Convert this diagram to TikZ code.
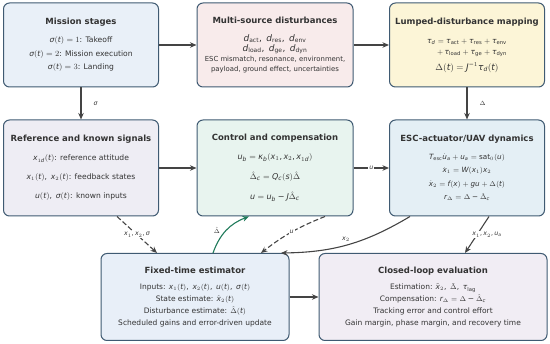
\documentclass[tikz,border=0pt]{standalone}
\usepackage{fontspec}
\setmainfont{DejaVu Sans}
\setmathrm{DejaVu Sans}
\usetikzlibrary{arrows.meta}

% sans math letters, digits and greek from DejaVu Sans
\DeclareSymbolFont{sfletters}{TU}{\rmdefault}{m}{it}
\DeclareSymbolFont{sfup}{TU}{\rmdefault}{m}{n}
\makeatletter
\count@=`a
\loop \Umathcode\count@="7 \symsfletters\count@ \ifnum\count@<`z \advance\count@\@ne \repeat
\count@=`A
\loop \Umathcode\count@="7 \symsfletters\count@ \ifnum\count@<`Z \advance\count@\@ne \repeat
\count@=`0
\loop \Umathcode\count@="7 \symsfup\count@ \ifnum\count@<`9 \advance\count@\@ne \repeat
\makeatother
\Umathcode `\( = "4 \symsfup `\(
\Umathcode `\) = "5 \symsfup `\)
\Umathcode `\+ = "2 \symsfup `\+
\Umathcode `\= = "3 \symsfup `\=
\Umathcode `\- = "2 \symsfup "2212
\Umathcode `\, = "6 \symsfup `\,
\Umathchardef\sigma="7 \symsfletters "03C3
\Umathchardef\tau="7 \symsfletters "03C4
\Umathchardef\kappa="7 \symsfletters "03BA
\Umathchardef\Delta="0 \symsfup "0394

\definecolor{boxline}{HTML}{3F5A72}
\definecolor{textgray}{HTML}{333333}
\definecolor{arrowgray}{HTML}{444444}
\definecolor{estgreen}{HTML}{1F7A5A}
\definecolor{missionfill}{HTML}{E9F0F8}
\definecolor{distfill}{HTML}{F8EBEB}
\definecolor{lumpfill}{HTML}{FCF5D7}
\definecolor{reffill}{HTML}{EEEDF4}
\definecolor{ctrlfill}{HTML}{E8F4EF}
\definecolor{escfill}{HTML}{E4EFF5}
\definecolor{estfill}{HTML}{E8EFF8}
\definecolor{evalfill}{HTML}{F1EDF4}

\newcommand{\boxtitle}[1]{{\fontsize{8.5}{9}\selectfont\bfseries #1}}

\begin{document}
\begin{tikzpicture}[x=1pt,y=-1pt,>={Stealth[length=6.5pt,width=5.5pt]},
  stagebox/.style={draw=boxline,line width=1pt,rounded corners=6pt,align=center,text=textgray,inner sep=0pt},
  flow/.style={->,draw=arrowgray,line width=1.1pt},
  sig/.style={font=\fontsize{6.3}{7}\selectfont,text=textgray,inner sep=1pt}]
\useasboundingbox (0,0) rectangle (550,344);

% top row
\node[stagebox,fill=missionfill,minimum width=155pt,minimum height=84pt,font=\fontsize{7.6}{13.5}\selectfont] (mission) at (81,45)
  {\boxtitle{Mission stages}\\[4.5pt] $\sigma(t)=1$: Takeoff\\ $\sigma(t)=2$: Mission execution\\ $\sigma(t)=3$: Landing};
\node[stagebox,fill=distfill,minimum width=156pt,minimum height=84pt,font=\fontsize{6.9}{10}\selectfont] (multi) at (275,45)
  {\boxtitle{Multi-source disturbances}\\[8pt]
   {\fontsize{9}{9}\selectfont $d_{\mathrm{act}},\ d_{\mathrm{res}},\ d_{\mathrm{env}}$}\\[-0.5pt]
   {\fontsize{9}{9}\selectfont $d_{\mathrm{load}},\ d_{\mathrm{ge}},\ d_{\mathrm{dyn}}$}\\
   ESC mismatch, resonance, environment,\\ payload, ground effect, uncertainties};
\node[stagebox,fill=lumpfill,minimum width=155pt,minimum height=84pt,font=\fontsize{7.5}{11}\selectfont] (lumped) at (467,45)
  {\boxtitle{Lumped-disturbance mapping}\\[8pt]
   $\tau_d=\tau_{\mathrm{act}}+\tau_{\mathrm{res}}+\tau_{\mathrm{env}}$\\
   \hspace*{10pt}$+\,\tau_{\mathrm{load}}+\tau_{\mathrm{ge}}+\tau_{\mathrm{dyn}}$\\[5pt]
   {\fontsize{9}{9}\selectfont $\Delta(t)=J^{-1}\tau_d(t)$}};

% middle row
\node[stagebox,fill=reffill,minimum width=155pt,minimum height=96pt,font=\fontsize{7.6}{19}\selectfont] (reference) at (81,168)
  {\boxtitle{Reference and known signals}\\ $x_{1d}(t)$: reference attitude\\ $x_1(t),\ x_2(t)$: feedback states\\ $u(t),\ \sigma(t)$: known inputs};
\node[stagebox,fill=ctrlfill,minimum width=156pt,minimum height=96pt,font=\fontsize{8}{20}\selectfont] (control) at (275,168)
  {\boxtitle{Control and compensation}\\[-1pt] $u_b=\kappa_b(x_1,x_2,x_{1d})$\\ $\hat{\Delta}_c=Q_c(s)\hat{\Delta}$\\ $u=u_b-J\hat{\Delta}_c$};
\node[stagebox,fill=escfill,minimum width=155pt,minimum height=96pt,font=\fontsize{7.2}{13.5}\selectfont] (esc) at (467,168)
  {\boxtitle{ESC-actuator/UAV dynamics}\\[4.5pt] $T_{\mathrm{esc}}\dot{u}_a+u_a=\mathrm{sat}_0(u)$\\ $\dot{x}_1=W(x_1)x_2$\\ $\dot{x}_2=f(x)+gu+\Delta(t)$\\ $r_\Delta=\Delta-\hat{\Delta}_c$};

% bottom row
\node[stagebox,fill=estfill,minimum width=188pt,minimum height=87pt,font=\fontsize{7.5}{11.9}\selectfont] (estimator) at (195,297)
  {\boxtitle{Fixed-time estimator}\\[4.5pt] Inputs: $x_1(t),\ x_2(t),\ u(t),\ \sigma(t)$\\ State estimate: $\hat{x}_2(t)$\\ Disturbance estimate: $\hat{\Delta}(t)$\\ Scheduled gains and error-driven update};
\node[stagebox,fill=evalfill,minimum width=228pt,minimum height=87pt,font=\fontsize{7.5}{11.9}\selectfont] (closed) at (433,297)
  {\boxtitle{Closed-loop evaluation}\\[4.5pt] Estimation: $\tilde{x}_2,\ \tilde{\Delta},\ \tau_{\mathrm{lag}}$\\ Compensation: $r_\Delta=\Delta-\hat{\Delta}_c$\\ Tracking error and control effort\\ Gain margin, phase margin, and recovery time};

% connectors
\draw[flow] (mission) -- (multi);
\draw[flow] (multi) -- (lumped);
\draw[flow] (mission) -- node[sig,right=11pt] {$\sigma$} (reference);
\draw[flow] (lumped) -- node[sig,right=11pt] {$\Delta$} (esc);
\draw[flow] (reference) -- (control);
\draw[flow] (control) -- node[sig,fill=white] {$u$} (esc);
\draw[flow,dash pattern=on 5pt off 2.5pt] ([xshift=36pt]reference.south) -- node[sig,fill=white] {$x_1, x_2, \sigma$} ([xshift=-38pt]estimator.north);
\draw[flow,draw=estgreen] ([xshift=18pt]estimator.north) to[bend left=25] node[sig,left=5pt] {$\hat{\Delta}$} ([xshift=-26pt]control.south);
\draw[flow,dash pattern=on 5pt off 2.5pt] ([xshift=50pt]control.south) to[bend right=8] node[sig,fill=white] {$u$} ([xshift=66pt]estimator.north);
\draw[flow] ([xshift=-57pt]esc.south) to[bend left=15] node[sig,above=2pt,pos=0.52] {$x_2$} ([xshift=86pt]estimator.north);
\draw[flow] ([xshift=22pt]esc.south) -- node[sig,fill=white,xshift=10pt] {$x_1, x_2, u_a$} ([xshift=32pt]closed.north);
\draw[flow] (estimator) -- (closed);
\end{tikzpicture}
\end{document}
